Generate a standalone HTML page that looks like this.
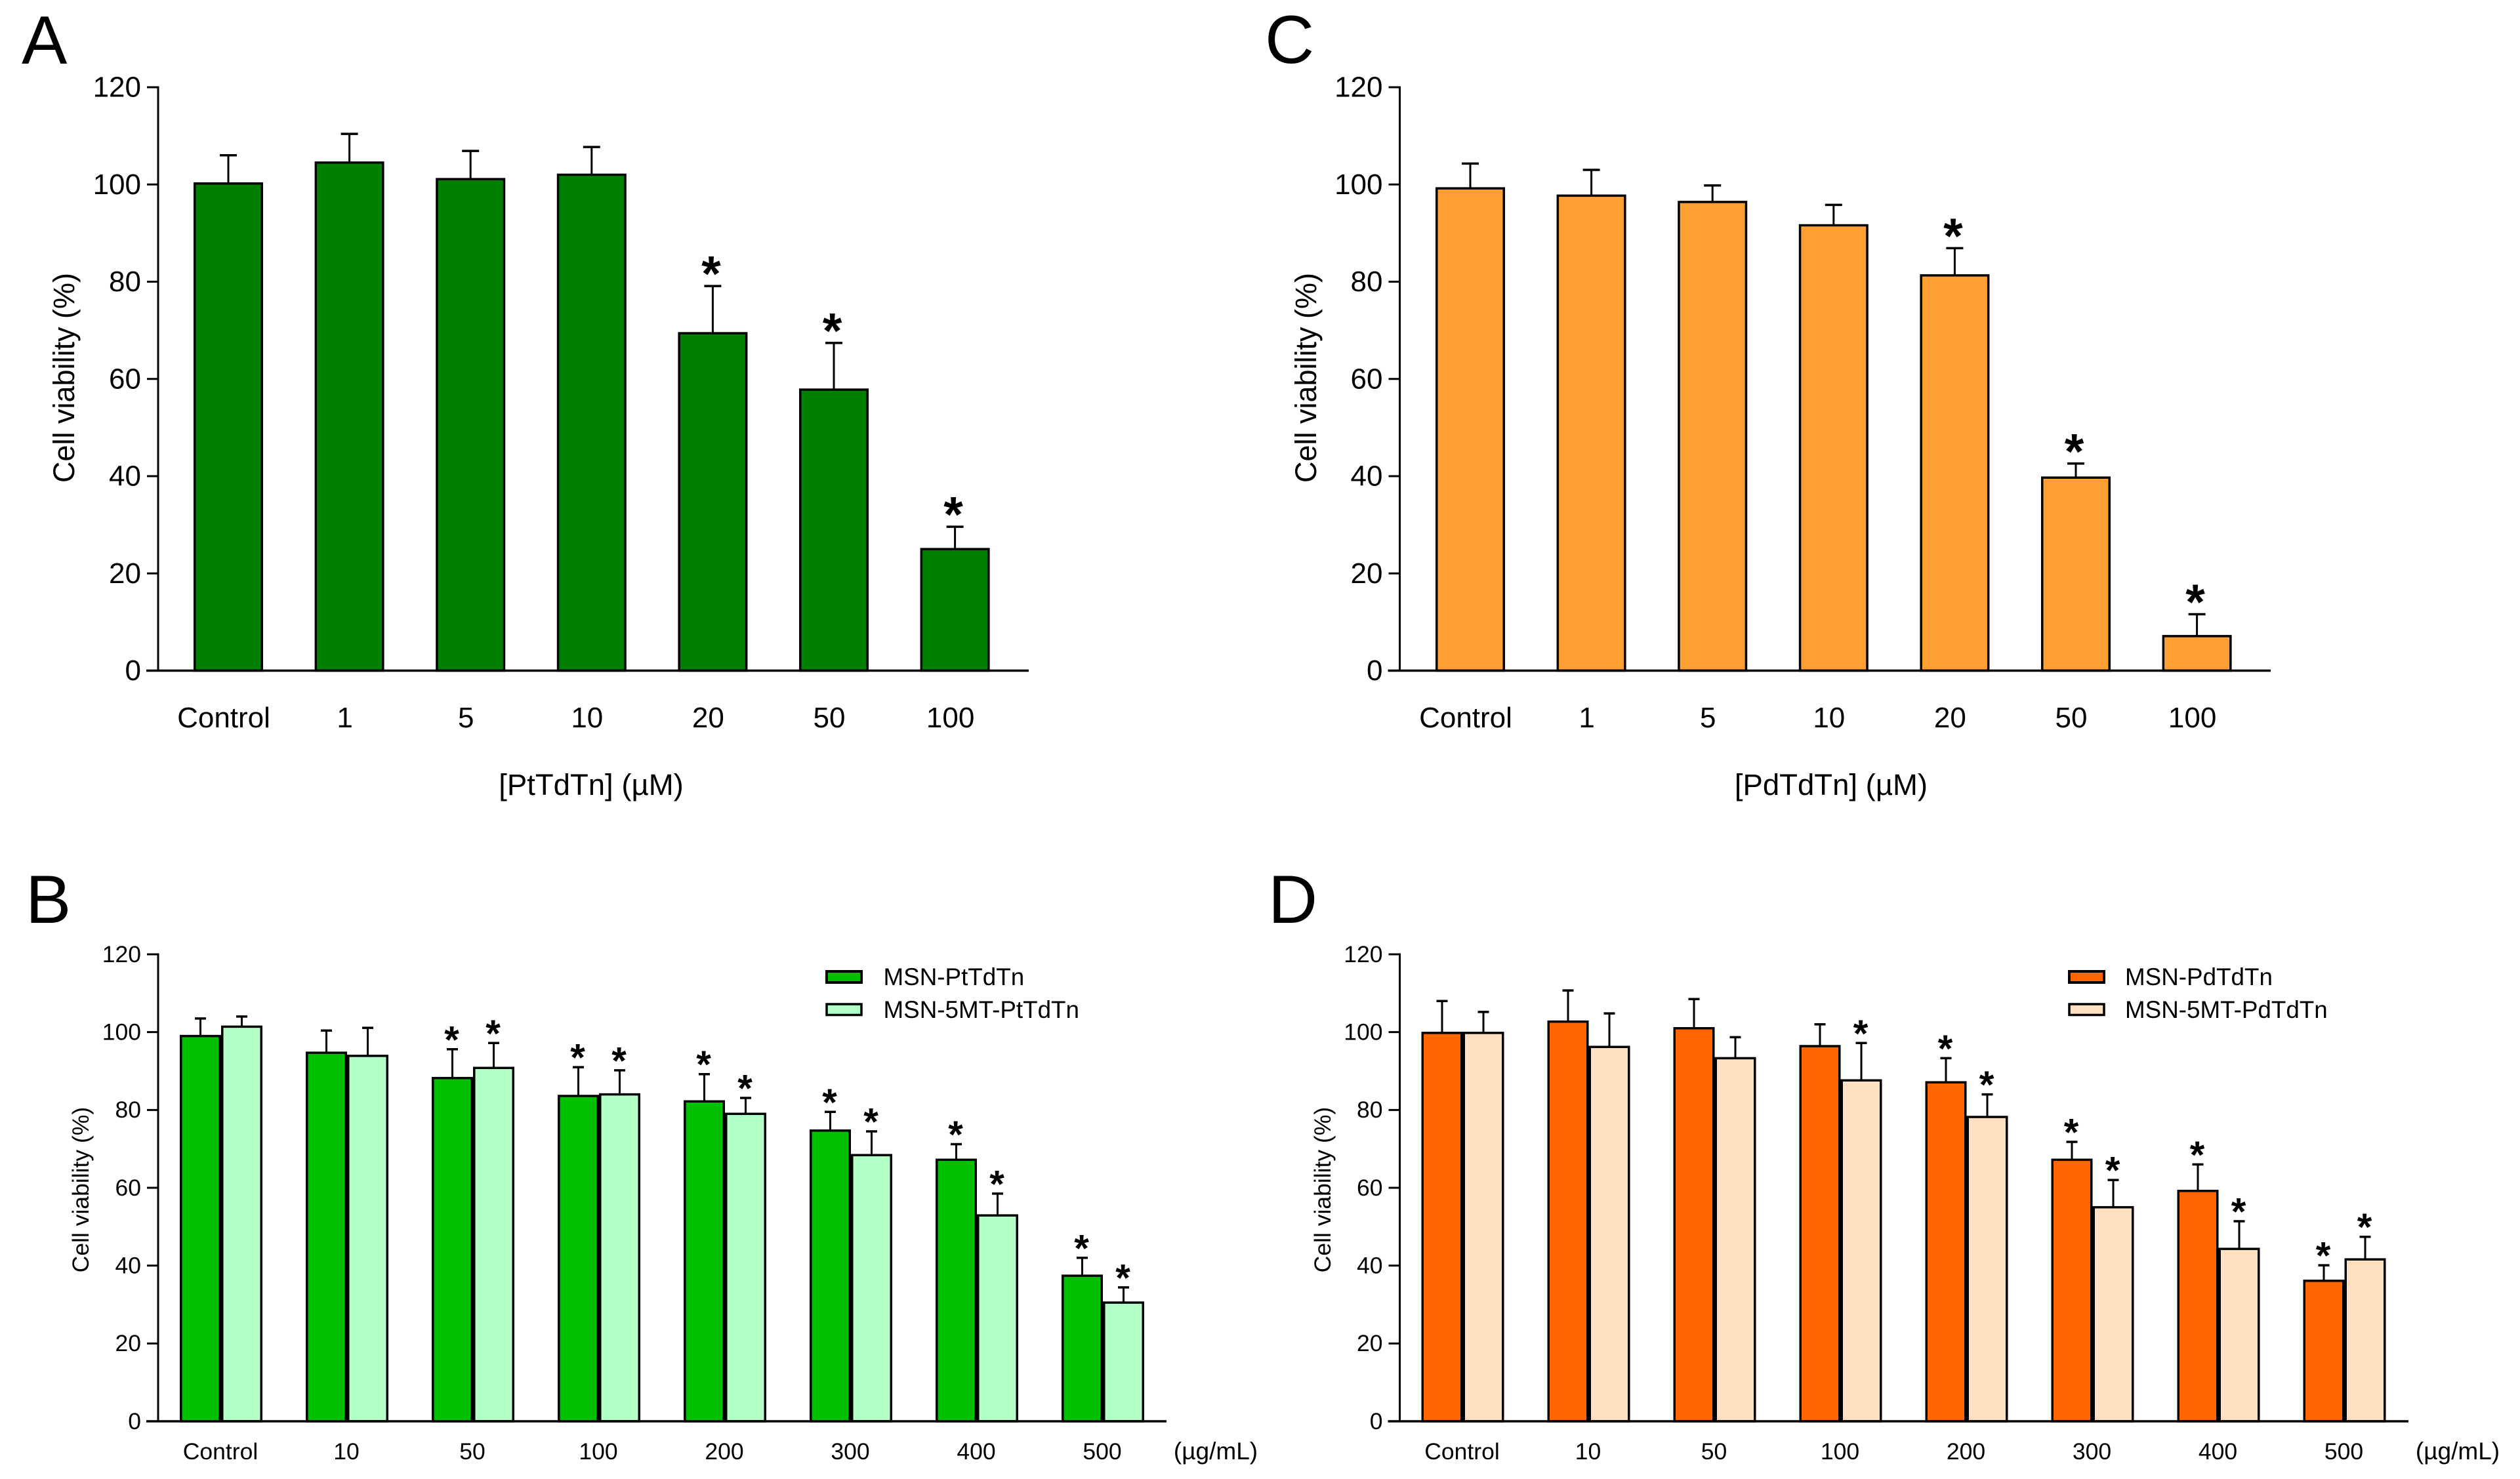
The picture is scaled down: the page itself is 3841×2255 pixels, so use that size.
<!DOCTYPE html>
<html lang="en">
<head>
<meta charset="utf-8">
<title>Cell viability bar charts</title>
<style>
html,body{margin:0;padding:0;background:#fff;}
svg{display:block;}
text{font-family:"Liberation Sans",Arial,sans-serif;fill:#000;}
</style>
</head>
<body>
<svg id="figure" xmlns="http://www.w3.org/2000/svg" width="3841" height="2255" viewBox="0 0 3841 2255">
  <rect x="0" y="0" width="3841" height="2255" fill="#fff"/>

  <text x="33" y="97" font-size="104">A</text>
  <text x="39" y="1407" font-size="104">B</text>
  <text x="1928" y="96" font-size="104">C</text>
  <text x="1933" y="1407" font-size="104">D</text>

  <text transform="translate(113,576) rotate(-90)" text-anchor="middle" font-size="45">Cell viability (%)</text>
  <text transform="translate(2006,576) rotate(-90)" text-anchor="middle" font-size="45">Cell viability (%)</text>
  <text transform="translate(135,1814) rotate(-90)" text-anchor="middle" font-size="35.5">Cell viability (%)</text>
  <text transform="translate(2028,1814) rotate(-90)" text-anchor="middle" font-size="35.5">Cell viability (%)</text>

  <text x="901" y="1212" text-anchor="middle" font-size="45.5">[PtTdTn] (µM)</text>
  <text x="2791" y="1212" text-anchor="middle" font-size="45.5">[PdTdTn] (µM)</text>
  <text x="1853" y="2225" text-anchor="middle" font-size="37">(µg/mL)</text>
  <text x="3746" y="2225" text-anchor="middle" font-size="37">(µg/mL)</text>

  <g>
    <rect x="1260" y="1481" width="53" height="17" fill="#00c000" stroke="#000" stroke-width="4"/>
    <text x="1346.5" y="1502" font-size="36.8">MSN-PtTdTn</text>
    <rect x="1260" y="1531" width="53" height="16.5" fill="#b2ffc8" stroke="#000" stroke-width="3.5"/>
    <text x="1346.5" y="1552" font-size="36.8">MSN-5MT-PtTdTn</text>
  </g>
  <g>
    <rect x="3154" y="1481" width="53" height="17" fill="#ff6600" stroke="#000" stroke-width="4"/>
    <text x="3239" y="1502" font-size="36.8">MSN-PdTdTn</text>
    <rect x="3154" y="1531" width="53" height="16.5" fill="#ffe0c0" stroke="#000" stroke-width="3.5"/>
    <text x="3239" y="1552" font-size="36.8">MSN-5MT-PdTdTn</text>
  </g>
</svg>

<script>
// ---- chart data ----
const yTickLabels = [0, 20, 40, 60, 80, 100, 120];

const aCategories = ['Control', '1', '5', '10', '20', '50', '100'];
const aValues = [100.2, 104.5, 101.1, 102, 69.4, 57.8, 25];
const aErrors = [5.8, 5.9, 5.8, 5.7, 9.7, 9.6, 4.6];
const aStars = [0, 0, 0, 0, 1, 1, 1];

const cCategories = ['Control', '1', '5', '10', '20', '50', '100'];
const cValues = [99.2, 97.7, 96.4, 91.6, 81.3, 39.7, 7.1];
const cErrors = [5.1, 5.3, 3.4, 4.2, 5.6, 2.9, 4.5];
const cStars = [0, 0, 0, 0, 1, 1, 1];

const bCategories = ['Control', '10', '50', '100', '200', '300', '400', '500'];
const bDarkValues = [99, 94.7, 88.2, 83.6, 82.2, 74.7, 67.2, 37.4];
const bDarkErrors = [4.5, 5.7, 7.4, 7.4, 7, 4.8, 4, 4.6];
const bDarkStars = [0, 0, 1, 1, 1, 1, 1, 1];
const bLightValues = [101.4, 93.9, 90.8, 84, 79, 68.4, 52.9, 30.5];
const bLightErrors = [2.6, 7.2, 6.4, 6.2, 4.1, 6.1, 5.6, 3.9];
const bLightStars = [0, 0, 1, 1, 1, 1, 1, 1];

const dCategories = ['Control', '10', '50', '100', '200', '300', '400', '500'];
const dDarkValues = [99.8, 102.7, 101, 96.4, 87.1, 67.2, 59.2, 36.1];
const dDarkErrors = [8.2, 8, 7.5, 5.6, 6.2, 4.6, 6.8, 4];
const dDarkStars = [0, 0, 0, 0, 1, 1, 1, 1];
const dLightValues = [99.8, 96.2, 93.3, 87.6, 78.2, 55, 44.3, 41.6];
const dLightErrors = [5.4, 8.6, 5.4, 9.6, 5.8, 7, 7.1, 5.8];
const dLightStars = [0, 0, 0, 1, 1, 1, 1, 1];

// ---- drawing ----
const SVG_NS = 'http://www.w3.org/2000/svg';
const figure = document.getElementById('figure');

function shape(parent, tag, attrs) {
  const node = document.createElementNS(SVG_NS, tag);
  for (const key in attrs) node.setAttribute(key, attrs[key]);
  parent.appendChild(node);
  return node;
}

function makeYScale(cfg) {
  return function (v) { return cfg.y0 - v * (cfg.y0 - cfg.yTop) / 120; };
}

function drawAxes(cfg, g, y) {
  const yAxis = shape(g, 'line', {x1: cfg.axisX, x2: cfg.axisX, y1: y(120) - 1.5, y2: cfg.y0, stroke: '#000', 'stroke-width': 3});
  
  

  const xAxis = shape(g, 'line', {x1: cfg.axisX - 18, x2: cfg.axisEnd, y1: cfg.y0, y2: cfg.y0, stroke: '#000', 'stroke-width': 3.5});
  
  

  yTickLabels.forEach(function (tick) {
    const mark = shape(g, 'line', {x1: cfg.axisX - 17, x2: cfg.axisX, y1: y(tick), y2: y(tick), stroke: '#000', 'stroke-width': 3});
    
    

    const label = shape(g, 'text', {x: cfg.axisX - 26, y: y(tick) + cfg.fontSize * 0.335, 'text-anchor': 'end', 'font-size': cfg.fontSize});
    label.textContent = tick;
    
    
  });
}

function drawBar(cfg, g, y, left, value, error, star, color, tag) {
  const cx = left + cfg.barWidth / 2;
  const stem = shape(g, 'line', {x1: cx, x2: cx, y1: y(value), y2: y(value + error), stroke: '#000', 'stroke-width': 3});
  
  

  const cap = shape(g, 'line', {x1: cx - cfg.capHalf, x2: cx + cfg.capHalf, y1: y(value + error), y2: y(value + error), stroke: '#000', 'stroke-width': 3.5});
  
  

  const bar = shape(g, 'rect', {x: left + 1.75, y: y(value), width: cfg.barWidth - 3.5, height: cfg.y0 - y(value), fill: color, stroke: '#000', 'stroke-width': 3.5});
  
  

  if (star) {
    const mark = shape(g, 'text', {x: cx - cfg.starShift, y: y(value + error) - cfg.starGap + cfg.starSize * 0.56, 'text-anchor': 'middle', 'font-size': cfg.starSize, 'font-weight': 'bold'});
    mark.textContent = '*';
    
    
  }
}

function drawSingle(cfg, categories, values, errors, stars, color) {
  const g = shape(figure, 'g', {});
  
  
  const y = makeYScale(cfg);
  categories.forEach(function (cat, i) {
    const left = cfg.start + i * cfg.step;
    drawBar(cfg, g, y, left, values[i], errors[i], stars[i], color, cfg.id + '-' + cat.toLowerCase());
    const label = shape(g, 'text', {x: left + cfg.barWidth / 2 - 7, y: cfg.labelY, 'text-anchor': 'middle', 'font-size': cfg.fontSize});
    label.textContent = cat;
    
    
  });
  drawAxes(cfg, g, y);
}

function drawGrouped(cfg, categories, darkV, darkE, darkS, lightV, lightE, lightS, darkColor, lightColor) {
  const g = shape(figure, 'g', {});
  
  
  const y = makeYScale(cfg);
  categories.forEach(function (cat, i) {
    const left = cfg.start + i * cfg.step;
    drawBar(cfg, g, y, left, darkV[i], darkE[i], darkS[i], darkColor, cfg.id + '-dark-' + cat.toLowerCase());
    drawBar(cfg, g, y, left + cfg.barWidth, lightV[i], lightE[i], lightS[i], lightColor, cfg.id + '-light-' + cat.toLowerCase());
    const label = shape(g, 'text', {x: left + cfg.barWidth - 1, y: cfg.labelY, 'text-anchor': 'middle', 'font-size': cfg.fontSize});
    label.textContent = cat;
    
    
  });
  drawAxes(cfg, g, y);
}

const singleLayout = {y0: 1022.5, yTop: 133, barWidth: 106, step: 184.6, capHalf: 13, starSize: 76, starGap: 35, starShift: 2.5, fontSize: 44, labelY: 1109};
const groupLayout = {y0: 2167, yTop: 1455, barWidth: 63, step: 192, capHalf: 8.5, starSize: 58, starGap: 27, starShift: 1, fontSize: 35.5, labelY: 2225};

drawSingle(Object.assign({id: 'a', axisX: 241, axisEnd: 1568, start: 295}, singleLayout), aCategories, aValues, aErrors, aStars, '#008000');
drawSingle(Object.assign({id: 'c', axisX: 2133.5, axisEnd: 3461, start: 2188}, singleLayout), cCategories, cValues, cErrors, cStars, '#ff9f33');
drawGrouped(Object.assign({id: 'b', axisX: 241, axisEnd: 1778, start: 274}, groupLayout), bCategories, bDarkValues, bDarkErrors, bDarkStars, bLightValues, bLightErrors, bLightStars, '#00c000', '#b2ffc8');
drawGrouped(Object.assign({id: 'd', axisX: 2133.5, axisEnd: 3671, start: 2166.5}, groupLayout), dCategories, dDarkValues, dDarkErrors, dDarkStars, dLightValues, dLightErrors, dLightStars, '#ff6600', '#ffe0c0');
</script>
</body>
</html>
